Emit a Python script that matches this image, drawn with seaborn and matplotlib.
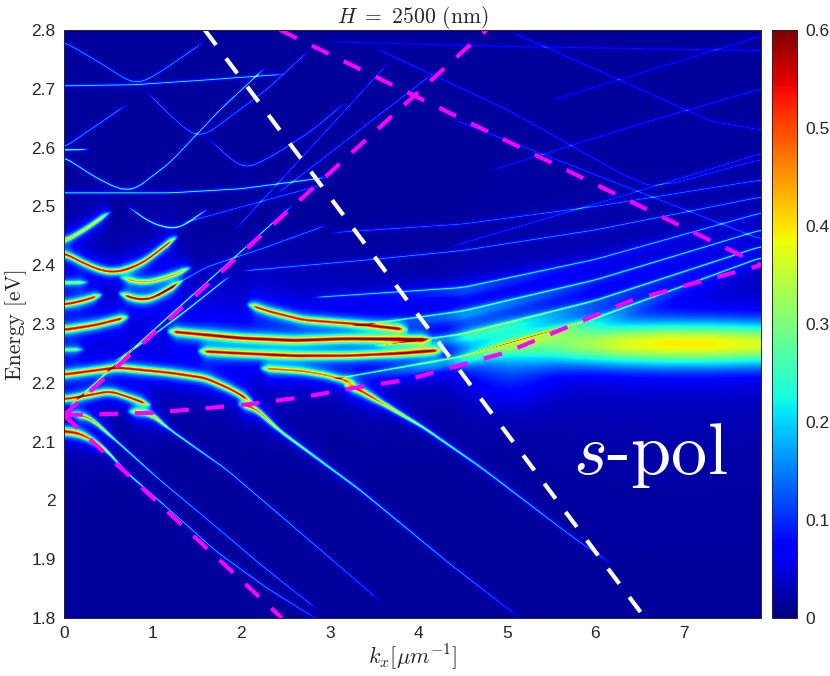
import numpy as np
import matplotlib
matplotlib.use('Agg')
import matplotlib.pyplot as plt
import seaborn as sns

# ── Axes ranges / ticks ───────────────────────────────
K_MAX, E_MIN, E_MAX = 7.87, 1.8, 2.8
NK, NE = 697, 588

x_ticks = [0, 1, 2, 3, 4, 5, 6, 7]
y_ticks = [2.8, 2.7, 2.6, 2.5, 2.4, 2.3, 2.2, 2.1, 2.0, 1.9, 1.8]
y_tick_labels = ['2.8', '2.7', '2.6', '2.5', '2.4', '2.3', '2.2', '2.1', '2', '1.9', '1.8']
cbar_ticks = [0, 0.1, 0.2, 0.3, 0.4, 0.5, 0.6]
cbar_labels = ['0', '0.1', '0.2', '0.3', '0.4', '0.5', '0.6']

# ── Modes (k in 1/um, E in eV) ───
# broad orange/red bands
band_k = [[0, 0.2, 0.4, 0.55, 0.7, 0.9, 1.1, 1.3],
          [0, 0.3],
          [0.62, 0.8, 0.95, 1.2, 1.46],
          [0, 0.2, 0.45],
          [0.6, 0.75, 0.88, 1.0, 1.2, 1.35],
          [0, 0.35, 0.75],
          [0, 0.25],
          [0, 0.25, 0.52, 0.8, 1.0],
          [0, 0.3, 0.6, 1.2, 1.6, 1.9, 2.15],
          [1.15, 1.5, 2.0, 2.6, 3.2, 3.8, 4.16],
          [1.5, 2.0, 2.6, 3.2, 3.8, 4.3],
          [2.05, 2.3, 2.7, 3.3, 3.9],
          [2.2, 2.7, 3.0, 3.3],
          [0, 0.25, 0.55]]
band_E = [[2.421, 2.405, 2.392, 2.388, 2.392, 2.405, 2.428, 2.452],
          [2.370, 2.371],
          [2.381, 2.372, 2.371, 2.381, 2.398],
          [2.333, 2.339, 2.351],
          [2.354, 2.345, 2.341, 2.344, 2.360, 2.375],
          [2.290, 2.298, 2.313],
          [2.256, 2.257],
          [2.172, 2.178, 2.186, 2.172, 2.160],
          [2.214, 2.220, 2.226, 2.217, 2.208, 2.188, 2.165],
          [2.288, 2.283, 2.276, 2.272, 2.275, 2.274, 2.273],
          [2.254, 2.250, 2.246, 2.246, 2.250, 2.256],
          [2.335, 2.322, 2.307, 2.300, 2.290],
          [2.225, 2.220, 2.212, 2.198],
          [2.440, 2.462, 2.494]]
band_amp = [0.45, 0.22, 0.32, 0.45, 0.45, 0.45, 0.2, 0.45, 0.45, 0.46, 0.44, 0.42, 0.36, 0.32]
band_w = [0.0035, 0.0025, 0.003, 0.0035, 0.0035, 0.004, 0.0025, 0.0035, 0.004, 0.0042, 0.004, 0.0038, 0.0035, 0.003]

# descending branches (bright at the top, thin further down)
desc_k = [[0, 0.2, 0.45, 0.71, 1.2, 1.73, 2.3, 2.89],
          [0.05, 0.3, 0.6, 1.08, 1.6, 2.25, 2.9],
          [0.7, 0.97, 1.2, 1.84, 2.81, 3.6],
          [1.95, 2.15, 2.44, 3.34, 4.39, 5.15],
          [3.15, 3.3, 3.6, 4.05, 4.7, 5.74, 6.2]]
desc_E = [[2.118, 2.113, 2.090, 2.047, 1.983, 1.912, 1.850, 1.795],
          [2.150, 2.140, 2.100, 2.035, 1.970, 1.887, 1.810],
          [2.152, 2.149, 2.120, 2.052, 1.927, 1.825],
          [2.165, 2.158, 2.118, 2.018, 1.888, 1.800],
          [2.198, 2.191, 2.165, 2.125, 2.057, 1.938, 1.890]]
desc_amp = [[0.5, 0.46, 0.38, 0.28, 0.2, 0.18, 0.16, 0.12],
            [0.42, 0.38, 0.28, 0.2, 0.16, 0.16, 0.12],
            [0.38, 0.38, 0.28, 0.2, 0.16, 0.1],
            [0.42, 0.42, 0.33, 0.22, 0.16, 0.1],
            [0.46, 0.46, 0.42, 0.3, 0.22, 0.16, 0.1]]
desc_w = [[0.005, 0.0045, 0.003, 0.0018, 0.0012, 0.0012, 0.0012, 0.0012],
          [0.004, 0.003, 0.002, 0.0012, 0.0012, 0.0012, 0.0012],
          [0.004, 0.004, 0.002, 0.0012, 0.0012, 0.0012],
          [0.004, 0.004, 0.003, 0.0018, 0.0012, 0.0012],
          [0.005, 0.005, 0.004, 0.0025, 0.0018, 0.0012, 0.0012]]

# thin lines: upper-left lattice
tl_k = [[0.05, 1.0, 1.9, 2.6], [0.56, 1.0, 1.39, 1.9], [1.0, 1.61, 2.29, 3.0],
        [0.0, 0.4, 0.7, 0.82, 0.95, 1.2, 1.61], [0, 0.8, 1.6, 2.5],
        [0.9, 1.2, 1.4, 1.53, 1.66, 1.9, 2.3, 2.8],
        [1.6, 1.85, 1.98, 2.06, 2.15, 2.4, 2.81, 3.2],
        [0, 0.35, 0.6, 0.71, 0.82, 1.2, 1.76, 2.3],
        [0.7, 0.95, 1.12, 1.23, 1.34, 1.65], [1.3, 2.36, 3.0],
        [0, 1.2, 2.0, 3.0], [0, 0.74], [0, 0.3],
        [1.9, 2.97, 3.7], [2.36, 3.34, 4.2]]
tl_E = [[2.158, 2.288, 2.410, 2.505], [2.234, 2.280, 2.324, 2.385], [2.345, 2.397, 2.431, 2.470],
        [2.780, 2.745, 2.716, 2.710, 2.716, 2.740, 2.783], [2.705, 2.707, 2.715, 2.725],
        [2.700, 2.655, 2.628, 2.620, 2.628, 2.655, 2.700, 2.770],
        [2.620, 2.585, 2.570, 2.567, 2.570, 2.590, 2.630, 2.680],
        [2.584, 2.550, 2.531, 2.528, 2.531, 2.575, 2.664, 2.740],
        [2.502, 2.475, 2.465, 2.463, 2.466, 2.499], [2.470, 2.514, 2.540],
        [2.523, 2.523, 2.530, 2.550], [2.600, 2.676], [2.596, 2.597],
        [2.455, 2.630, 2.750], [2.516, 2.630, 2.730]]
tl_amp = [0.28, 0.26, 0.14, 0.16, 0.2, 0.14, 0.14, 0.24, 0.28, 0.12, 0.22, 0.16, 0.28, 0.12, 0.12]

# thin lines: rising family right of the light line
rise_k = [[3.0, 4.5, 6.0, 7.87], [3.5, 4.5, 6.0, 7.87], [3.2, 4.5, 6.0, 7.87],
          [2.8, 4.5, 6.0, 7.87], [2.0, 3.5, 4.5, 6.0, 7.87], [3.0, 4.5, 6.0, 7.87]]
rise_E = [[2.205, 2.245, 2.310, 2.413], [2.262, 2.283, 2.340, 2.432], [2.295, 2.322, 2.375, 2.460],
          [2.345, 2.362, 2.410, 2.489], [2.390, 2.410, 2.425, 2.460, 2.516], [2.455, 2.470, 2.500, 2.545]]
rise_amp = [0.2, 0.2, 0.18, 0.16, 0.14, 0.12]
rise_glow = [[0.0, 0.14, 0.06, 0.02], [0.0, 0.13, 0.05, 0.02],
             [0.0, 0.11, 0.04, 0.015], [0.0, 0.08, 0.03, 0.01]]

# thin lines: faint lattice in the upper right
tr_k = [[4.36, 7.87], [3.5, 5.0, 6.3, 6.6, 6.9, 7.87], [5.0, 6.5, 7.3, 7.87],
        [4.36, 6.6, 7.87], [4.8, 6.5, 7.87], [5.5, 6.8, 7.87], [3.0, 5.0, 7.87]]
tr_E = [[2.650, 2.444], [2.770, 2.665, 2.555, 2.535, 2.540, 2.580], [2.800, 2.700, 2.645, 2.630],
        [2.431, 2.531, 2.590], [2.560, 2.640, 2.700], [2.680, 2.740, 2.790], [2.780, 2.772, 2.765]]
tr_amp = [0.1, 0.09, 0.08, 0.09, 0.08, 0.07, 0.07]

# broad exciton-like glow on the right (peak value along k)
blob_k = [4.3, 4.8, 5.3, 5.8, 6.3, 6.8, 7.3, 7.87]
blob_amp = [0.03, 0.10, 0.20, 0.29, 0.35, 0.38, 0.38, 0.35]
blob_E0, blob_sig = 2.266, 0.036

# dashed guide lines
white_k, white_E = [1.59, 6.56], [2.8, 1.8]
mag_up_k, mag_up_E = [0, 4.77], [2.145, 2.8]
mag_dn_k, mag_dn_E = [0, 2.46], [2.145, 1.8]
mag_top_k, mag_top_E = [2.44, 7.87], [2.8, 2.4]
mag_low_k = [0, 1, 2, 2.72, 3.26, 3.87, 5.0, 6.42, 7.87]
mag_low_E = [2.145, 2.149, 2.162, 2.176, 2.191, 2.205, 2.252, 2.341, 2.40]

# ── Build the map ─────────────────────────────────────
k = (np.arange(NK) + 0.5) / NK * K_MAX
E = E_MAX - (np.arange(NE) + 0.5) / NE * (E_MAX - E_MIN)
EE = E[:, None]
KK = k[None, :]
field = np.full((NE, NK), 0.014)


def mode(kp, ep, amp, width):
    kp = np.asarray(kp, float)
    amp = np.broadcast_to(np.asarray(amp, float), kp.shape)
    width = np.broadcast_to(np.asarray(width, float), kp.shape)
    e0 = np.interp(k, kp, ep)
    e0 = np.convolve(np.pad(e0, 8, mode='edge'), np.ones(17) / 17, mode='valid')
    a = np.interp(k, kp, amp)
    w = np.interp(k, kp, width)
    taper = np.ones_like(k)
    if kp[0] > 0:
        taper *= np.clip((k - kp[0]) / 0.12, 0, 1)
    if kp[-1] < K_MAX - 0.01:
        taper *= np.clip((kp[-1] - k) / 0.12, 0, 1)
    return (a * taper * w**2)[None, :] / ((EE - e0[None, :])**2 + w[None, :]**2)


for kp, ep, a, w in zip(band_k, band_E, band_amp, band_w):
    field += mode(kp, ep, a, w)
    field += mode(kp, ep, 0.07, 0.011)      # cyan halo
for kp, ep, a, w in zip(desc_k, desc_E, desc_amp, desc_w):
    field += mode(kp, ep, a, w)
    field += mode(kp[:3], ep[:3], 0.05, 0.01)
for kp, ep, a in zip(tl_k, tl_E, tl_amp):
    field += mode(kp, ep, a, 0.0011)
for kp, ep, a in zip(rise_k, rise_E, rise_amp):
    field += mode(kp, ep, a, 0.0011)
for kp, ep, g in zip(rise_k, rise_E, rise_glow):
    field += mode(kp, np.asarray(ep) - 0.007, g, 0.012)
for kp, ep, a in zip(tr_k, tr_E, tr_amp):
    field += mode(kp, ep, a, 0.001)

# smooth glows
blob = np.interp(k, blob_k, blob_amp) * np.clip((k - blob_k[0]) / 0.3, 0, 1)
shape = 0.78 * np.exp(-((EE - blob_E0) / blob_sig)**2) + 0.22 * 0.06**2 / ((EE - blob_E0)**2 + 0.06**2)
field += blob[None, :] * shape
field += 0.06 * np.exp(-((KK - 5.0) / 0.5)**2 - ((EE - 2.22) / 0.06)**2)
field += 0.035 * np.exp(-((KK - 1.8) / 1.6)**2 - ((EE - 2.29) / 0.1)**2)
field = np.clip(field, 0, 0.6)


def xpos(v):
    return np.asarray(v, float) / K_MAX * NK


def ypos(v):
    return (E_MAX - np.asarray(v, float)) / (E_MAX - E_MIN) * NE


# ── Plot ──────────────────────────────────────────────
sns.set_style('white')
plt.rcParams['font.family'] = ['Liberation Sans', 'DejaVu Sans']
plt.rcParams['mathtext.fontset'] = 'cm'

fig = plt.figure(figsize=(8.3, 6.76), dpi=100)
ax = fig.add_axes([64 / 830, 1 - 618 / 676, 697 / 830, 588 / 676])
cax = fig.add_axes([772 / 830, 1 - 618 / 676, 25 / 830, 588 / 676])

sns.heatmap(field, ax=ax, cbar_ax=cax, cmap='jet', vmin=0, vmax=0.6,
            xticklabels=False, yticklabels=False,
            cbar_kws={'ticks': cbar_ticks})

ax.plot(xpos(white_k), ypos(white_E), color='white', lw=3, dashes=(4.5, 4))
for mk, me in [(mag_up_k, mag_up_E), (mag_dn_k, mag_dn_E),
               (mag_top_k, mag_top_E), (mag_low_k, mag_low_E)]:
    ax.plot(xpos(mk), ypos(me), color='#ff00ff', lw=3, dashes=(4.5, 4))

ax.set_xlim(0, NK)
ax.set_ylim(NE, 0)
ax.set_xticks(xpos(x_ticks))
ax.set_xticklabels([str(t) for t in x_ticks])
ax.set_yticks(ypos(y_ticks))
ax.set_yticklabels(y_tick_labels, rotation=0)
ax.tick_params(direction='in', top=True, right=True, length=5, width=0.6,
               color='#262626', labelcolor='#262626', labelsize=12.5, pad=6)
for s in ax.spines.values():
    s.set_visible(True)
    s.set_color('#262626')
    s.set_linewidth(0.7)

ax.text(xpos(5.75), ypos(2.045), r'$s$-pol', color='white', fontsize=52,
        family='cmr10', va='baseline')
ax.set_title(r'$H\ =\ 2500$ (nm)', fontsize=15.5, family='cmr10', pad=5)
ax.set_ylabel('Energy [eV]', fontsize=15.5, family='cmr10', labelpad=3)
ax.set_xlabel(r'$k_x[\mu m^{-1}]$', fontsize=16, labelpad=1)

cb = ax.collections[0].colorbar
cb.set_ticks(cbar_ticks)
cb.set_ticklabels(cbar_labels)
cb.outline.set_visible(True)
cb.outline.set_linewidth(0.7)
cb.outline.set_edgecolor('#262626')
cax.tick_params(direction='in', length=4, width=0.6, color='#262626',
                labelcolor='#262626', labelsize=12.5, pad=6)

plt.savefig('out.png', dpi=100)
